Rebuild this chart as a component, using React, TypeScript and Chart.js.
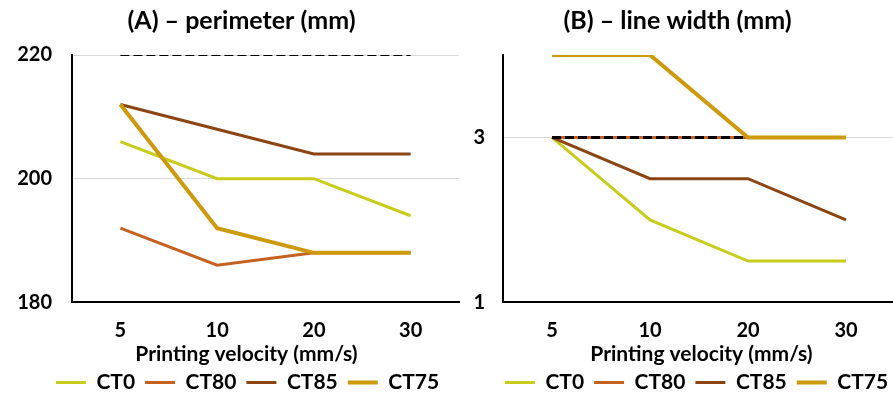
import React, { useEffect, useRef } from "react";
import { Chart, registerables } from "chart.js";

Chart.register(...registerables);

const categories = ["5", "10", "20", "30"];
const seriesNames = ["CT0", "CT80", "CT85", "CT75"];
const seriesColors = ["#c8cc1a", "#c5621f", "#8b4513", "#cc9a0c"];
const seriesWidths = [3, 3, 3, 4];
const seriesOrder = [3, 4, 2, 0];

const perimeterCT0 = [206, 200, 200, 194];
const perimeterCT80 = [192, 186, 188, 188];
const perimeterCT85 = [212, 208, 204, 204];
const perimeterCT75 = [212, 192, 188, 188];
const perimeterRef = [220, 220, 220, 220];
const perimeterTicks = [180, 200, 220];

const widthCT0 = [3, 2, 1.5, 1.5];
const widthCT80 = [3, 3, 3, 3];
const widthCT85 = [3, 2.5, 2.5, 2];
const widthCT75 = [4, 4, 3, 3];
const widthRef = [3, 3, 3, 3];
const widthTicks = [1, 3];

const FONT = "Lato";

type PanelOpts = {
  title: string;
  series: number[][];
  ref: number[];
  refWidth: number;
  min: number;
  max: number;
  ticks: number[];
  yWidth: number;
  yPad: number;
  padRight: number;
  shiftTitle: number;
  shiftSub: number;
  shiftLegend: number;
};

function makeConfig(o: PanelOpts): any {
  const datasets: any[] = o.series.map((d, i) => ({
    label: seriesNames[i],
    data: d,
    borderColor: seriesColors[i],
    backgroundColor: seriesColors[i],
    borderWidth: seriesWidths[i],
    pointRadius: 0,
    tension: 0,
    order: seriesOrder[i],
  }));
  datasets.push({
    label: "ref",
    data: o.ref,
    borderColor: "#000000",
    backgroundColor: "#000000",
    borderWidth: o.refWidth,
    borderDash: [9, 4],
    pointRadius: 0,
    tension: 0,
    order: 1,
  });
  const shiftPlugin = {
    id: "shiftBoxes",
    afterLayout(chart: any) {
      for (const b of chart.boxes) {
        if (b.axis) continue;
        let s = o.shiftSub;
        if (b === chart.titleBlock) s = o.shiftTitle;
        else if (b === chart.legend) s = o.shiftLegend;
        b.left += s;
        b.right += s;
      }
    },
  };
  return {
    type: "line",
    data: { labels: categories, datasets },
    plugins: [shiftPlugin],
    options: {
      responsive: false,
      animation: false,
      devicePixelRatio: 1,
      layout: { padding: { left: 0, right: o.padRight, top: 0, bottom: -4 } },
      plugins: {
        tooltip: { enabled: false },
        title: {
          display: true,
          text: o.title,
          color: "#000",
          font: { family: FONT, size: 25, weight: 700, lineHeight: 1.2 },
          padding: { top: 6, bottom: 19 },
        },
        subtitle: {
          display: true,
          text: "Printing velocity (mm/s)",
          position: "bottom",
          fullSize: true,
          weight: 500,
          color: "#000",
          font: { family: FONT, size: 21, weight: 700, lineHeight: 0.7 },
          padding: { top: 0, bottom: 0 },
        },
        legend: {
          display: true,
          position: "bottom",
          fullSize: true,
          labels: {
            filter: (item: any) => item.datasetIndex < 4,
            sort: (a: any, b: any) => a.datasetIndex - b.datasetIndex,
            usePointStyle: true,
            pointStyle: "line",
            pointStyleWidth: 30,
            padding: 10,
            color: "#000",
            font: { family: FONT, size: 21, weight: 700 },
          },
        },
      },
      scales: {
        x: {
          type: "category",
          offset: true,
          grid: { display: false, drawTicks: false },
          border: { display: true, color: "#000", width: 2 },
          ticks: {
            color: "#000",
            padding: 16,
            maxRotation: 0,
            minRotation: 0,
            font: { family: FONT, size: 20, weight: 700 },
          },
          afterFit: (s: any) => {
            s.height = 45;
          },
        },
        y: {
          type: "linear",
          min: o.min,
          max: o.max,
          grid: { color: "#d9d9d9", lineWidth: 1, drawTicks: false },
          border: { display: true, color: "#000", width: 2 },
          ticks: {
            color: "#000",
            padding: o.yPad,
            font: { family: FONT, size: 20, weight: 700 },
          },
          afterBuildTicks: (s: any) => {
            s.ticks = o.ticks.map((v) => ({ value: v }));
          },
          afterFit: (s: any) => {
            s.width = o.yWidth;
          },
        },
      },
    },
  };
}

function Panel(props: { cfg: PanelOpts; left: number; width: number }) {
  const ref = useRef<HTMLCanvasElement | null>(null);
  useEffect(() => {
    if (!ref.current) return;
    const chart = new Chart(ref.current, makeConfig(props.cfg));
    return () => chart.destroy();
  }, []);
  return (
    <canvas
      ref={ref}
      width={props.width}
      height={399}
      style={{ position: "absolute", left: props.left, top: 0, width: props.width, height: 399 }}
    />
  );
}

const panelA: PanelOpts = {
  title: "(A) – perimeter (mm)",
  series: [perimeterCT0, perimeterCT80, perimeterCT85, perimeterCT75],
  ref: perimeterRef,
  refWidth: 2,
  min: 180,
  max: 220,
  ticks: perimeterTicks,
  yWidth: 72,
  yPad: 20,
  padRight: 1,
  shiftTitle: 12,
  shiftSub: 17,
  shiftLegend: 18,
};

const panelB: PanelOpts = {
  title: "(B) – line width (mm)",
  series: [widthCT0, widthCT80, widthCT85, widthCT75],
  ref: widthRef,
  refWidth: 3,
  min: 1,
  max: 4,
  ticks: widthTicks,
  yWidth: 43,
  yPad: 18,
  padRight: 0,
  shiftTitle: 0,
  shiftSub: 24,
  shiftLegend: 19,
};

export default function App() {
  return (
    <div
      style={{
        position: "fixed",
        left: 0,
        top: 0,
        width: 893,
        height: 399,
        overflow: "hidden",
        background: "#ffffff",
      }}
    >
      <Panel cfg={panelA} left={0} width={460} />
      <Panel cfg={panelB} left={460} width={435} />
    </div>
  );
}
